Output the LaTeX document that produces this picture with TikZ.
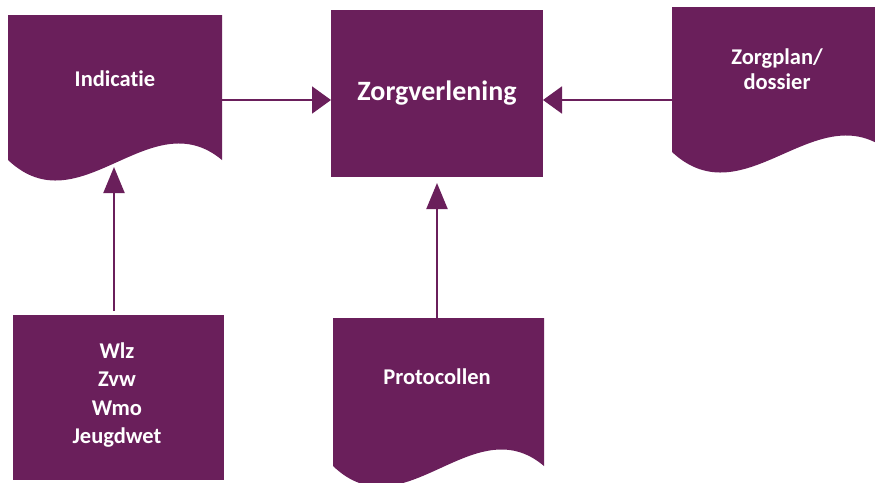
\documentclass[tikz,border=0pt]{standalone}
\usepackage{fontspec}
\setmainfont{Carlito}[Ligatures=NoCommon]
\usetikzlibrary{arrows.meta,calc}
\definecolor{plum}{RGB}{106,31,91}
\tikzset{
  box/.style={rectangle, inner sep=0pt, outer sep=0pt, fill=plum},
  docarea/.style={rectangle, inner sep=0pt, outer sep=0pt},
  lbl/.style={text=white, font=\fontsize{22.5}{25}\selectfont\bfseries, align=center, inner sep=0pt},
  biglbl/.style={text=white, font=\fontsize{28}{32}\selectfont\bfseries, align=center, inner sep=0pt},
  link/.style={draw=plum, line width=2pt},
  harrow/.style={link, -{Triangle[length=19pt,width=27pt]}},
  varrow/.style={link, -{Triangle[length=26pt,width=21pt]}},
}
% Document shape: flat top, wavy bottom, filled over the node's area
\newcommand\docfill[1]{%
  \fill[plum] (#1.north west) -- (#1.north east) -- (#1.south east)
    .. controls ($(#1.south east)!0.336!(#1.south west)+(0,-60)$)
       and ($(#1.south west)!0.336!(#1.south east)+(0,68)$) .. (#1.south west) -- cycle;}

\begin{document}
\begin{tikzpicture}[x=1pt,y=-1pt]
\useasboundingbox (0,0) rectangle (875,482);
\clip (0,0) rectangle (875,482);

% Document shapes
\node[docarea, minimum width=214pt, minimum height=145pt] (ind) at (115,87.5) {};
\node[docarea, minimum width=218pt, minimum height=145pt] (zp) at (781,79.5) {};
\node[docarea, minimum width=211pt, minimum height=148pt] (prot) at (438.5,392) {};
\docfill{ind}
\docfill{zp}
\docfill{prot}

% Plain boxes
\node[box, minimum width=212pt, minimum height=167pt] (zv) at (437,93.5) {};
\node[box, minimum width=211pt, minimum height=165pt] (wet) at (118.5,397.5) {};

% Labels
\node[lbl] (ind-t) at (115,79) {Indicatie};
\node[lbl] (zp-t) at (777,69) {Zorgplan/\\dossier};
\node[lbl] (prot-t) at (437,377) {Protocollen};
\node[biglbl] (zv-t) at (zv.center) {Zorgverlening};
\node[lbl, font=\fontsize{22.5}{28.5}\selectfont\bfseries] (wet-t) at (117,395) {Wlz\\Zvw\\Wmo\\Jeugdwet};

% Connectors
\coordinate (row) at (0,100);
\coordinate (indtip) at (114,167);
\draw[harrow] (ind.east |- row) -- (zv.west |- row);
\draw[harrow] (zp.west |- row) -- (zv.east |- row);
\draw[varrow, shorten <=4pt] (wet.north -| indtip) -- (indtip);
\draw[varrow, shorten >=6pt] (prot.north -| zv.south) -- (zv.south);
\end{tikzpicture}
\end{document}
